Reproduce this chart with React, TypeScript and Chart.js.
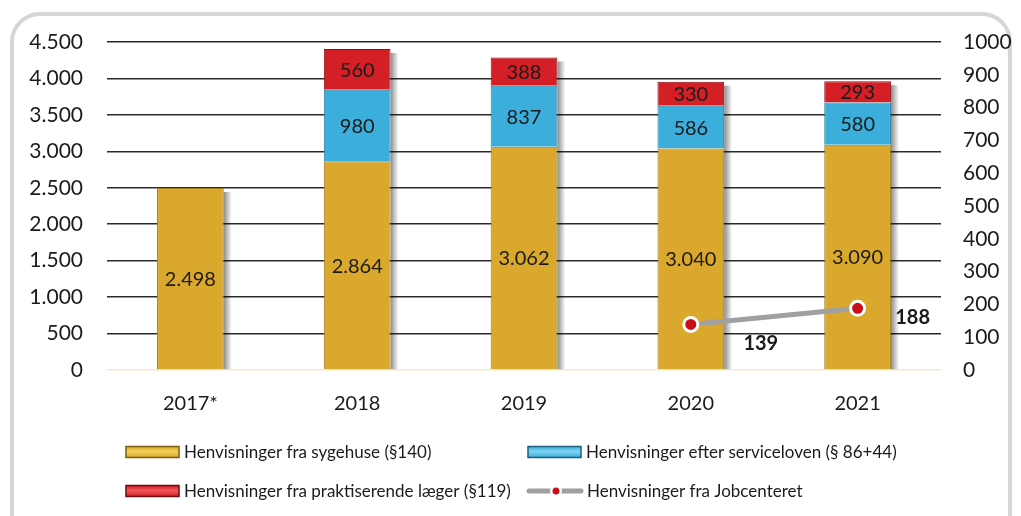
import React, { useEffect, useRef } from "react";
import { Chart, registerables } from "chart.js";
Chart.register(...registerables);

const categories = ["2017*", "2018", "2019", "2020", "2021"];
const sygehuse = [2498, 2864, 3062, 3040, 3090];
const serviceloven = [null, 980, 837, 586, 580];
const laeger = [null, 560, 388, 330, 293];
const jobcenter = [null, null, null, 139, 188];

const seriesNames = [
  "Henvisninger fra sygehuse (§140)",
  "Henvisninger efter serviceloven (§ 86+44)",
  "Henvisninger fra praktiserende læger (§119)",
  "Henvisninger fra Jobcenteret",
];

const FONT = "Lato";
const yellow = "#D9A82C";
const blue = "#3BAEDB";
const red = "#D41F26";

function fmt(v: number): string {
  const s = String(Math.round(v));
  return s.replace(/\B(?=(\d{3})+(?!\d))/g, ".");
}

const labelPlugin = {
  id: "labels",
  beforeDatasetsDraw(chart: any) {
    const ctx = chart.ctx;
    const metas = [0, 1, 2].map((d) => chart.getDatasetMeta(d));
    ctx.save();
    metas[0].data.forEach((el: any, i: number) => {
      let top = el.y;
      metas.forEach((m: any, d: number) => {
        if (chart.data.datasets[d].data[i] != null) top = Math.min(top, m.data[i].y);
      });
      const right = el.x + el.width / 2;
      const g = ctx.createLinearGradient(right, 0, right + 8, 0);
      g.addColorStop(0, "rgba(0,0,0,0.45)");
      g.addColorStop(1, "rgba(0,0,0,0)");
      ctx.fillStyle = g;
      ctx.fillRect(right, top + 4, 8, el.base - top - 4);
    });
    ctx.restore();
  },
  afterDatasetsDraw(chart: any) {
    const ctx = chart.ctx;
    ctx.save();
    ctx.textAlign = "center";
    ctx.textBaseline = "middle";
    ctx.fillStyle = "#1b1b1b";
    ctx.font = `20px ${FONT}`;
    for (let d = 0; d < 3; d++) {
      const meta = chart.getDatasetMeta(d);
      const data = chart.data.datasets[d].data;
      meta.data.forEach((el: any, i: number) => {
        const v = data[i];
        if (v == null) return;
        const y = (el.y + el.base) / 2;
        ctx.fillText(fmt(v), el.x, y + 1);
      });
    }
    const lm = chart.getDatasetMeta(3);
    const offs = [null, null, null, [70, 19], [55, 9]];
    ctx.font = `bold 20px ${FONT}`;
    lm.data.forEach((el: any, i: number) => {
      const v = jobcenter[i];
      const o = offs[i];
      if (v == null || !o) return;
      ctx.fillText(String(v), el.x + o[0], el.y + o[1]);
    });
    ctx.restore();
  },
  afterDraw(chart: any) {
    const ctx = chart.ctx;
    ctx.save();
    const items = [
      { x: 126, y: 452, kind: "box", fill: yellow, light: "#f3d25a", stroke: "#7a5c12" },
      { x: 528, y: 452, kind: "box", fill: blue, light: "#7fd3f2", stroke: "#1f5f7d" },
      { x: 126, y: 491, kind: "box", fill: red, light: "#f0585c", stroke: "#6d0c10" },
      { x: 527, y: 491, kind: "line" },
    ];
    ctx.font = `17px ${FONT}`;
    ctx.textBaseline = "middle";
    ctx.textAlign = "left";
    items.forEach((it: any, i) => {
      if (it.kind === "box") {
        const g = ctx.createLinearGradient(0, it.y - 5.5, 0, it.y + 5.5);
        g.addColorStop(0, it.fill);
        g.addColorStop(0.45, it.light);
        g.addColorStop(1, it.fill);
        ctx.fillStyle = g;
        ctx.strokeStyle = it.stroke;
        ctx.lineWidth = 1.5;
        ctx.fillRect(it.x, it.y - 5.5, 53, 11);
        ctx.strokeRect(it.x, it.y - 5.5, 53, 11);
      } else {
        ctx.strokeStyle = "#a0a0a0";
        ctx.lineWidth = 5;
        ctx.lineCap = "round";
        ctx.beginPath();
        ctx.moveTo(it.x + 2, it.y);
        ctx.lineTo(it.x + 54, it.y);
        ctx.stroke();
        ctx.fillStyle = "#ffffff";
        ctx.beginPath();
        ctx.arc(it.x + 29, it.y, 6, 0, Math.PI * 2);
        ctx.fill();
        ctx.fillStyle = "#c8101a";
        ctx.beginPath();
        ctx.arc(it.x + 29, it.y, 3.5, 0, Math.PI * 2);
        ctx.fill();
      }
      ctx.fillStyle = "#1b1b1b";
      const tx = it.kind === "box" ? it.x + 58 : it.x + 60;
      ctx.fillText(seriesNames[i], tx, it.y + 1);
    });
    ctx.restore();
  },
};

export default function App() {
  const ref = useRef<HTMLCanvasElement>(null);
  useEffect(() => {
    if (!ref.current) return;
    Chart.defaults.font.family = FONT;
    const chart = new Chart(ref.current, {
      type: "bar",
      data: {
        labels: categories,
        datasets: [
          {
            label: seriesNames[0],
            data: sygehuse,
            backgroundColor: yellow,
            borderColor: "#a27d1c",
            borderWidth: 1,
            yAxisID: "y",
            order: 1,
          },
          {
            label: seriesNames[1],
            data: serviceloven,
            backgroundColor: blue,
            borderColor: "#2a7fa3",
            borderWidth: 1,
            yAxisID: "y",
            order: 1,
          },
          {
            label: seriesNames[2],
            data: laeger,
            backgroundColor: red,
            borderColor: "#8e1015",
            borderWidth: 1,
            yAxisID: "y",
            order: 1,
          },
          {
            type: "line",
            label: seriesNames[3],
            data: jobcenter,
            borderColor: "#a0a0a0",
            borderWidth: 5,
            pointBackgroundColor: "#c8101a",
            pointBorderColor: "#ffffff",
            pointBorderWidth: 3,
            pointRadius: 7,
            yAxisID: "y2",
            order: 0,
          } as any,
        ],
      },
      options: {
        responsive: false,
        animation: false,
        layout: { padding: { top: 42, bottom: 100, left: 0, right: 0 } },
        datasets: { bar: { barPercentage: 0.4, categoryPercentage: 1 } },
        plugins: { legend: { display: false }, tooltip: { enabled: false } },
        scales: {
          x: {
            stacked: true,
            grid: { display: false },
            border: { display: false },
            ticks: { color: "#1b1b1b", font: { size: 20 }, padding: 14 },
            afterFit(s: any) {
              s.height = 46;
            },
          },
          y: {
            stacked: true,
            position: "left",
            min: 0,
            max: 4500,
            border: { display: false },
            grid: {
              drawTicks: false,
              color: (c: any) => (c.tick && c.tick.value === 0 ? "#fbe8c8" : "#2a2a2a"),
              lineWidth: 1.5,
            },
            ticks: {
              stepSize: 500,
              padding: 24,
              color: "#1b1b1b",
              font: { size: 21 },
              callback: (v: any) => fmt(Number(v)),
            },
            afterFit(s: any) {
              s.width = 107;
            },
          },
          y2: {
            position: "right",
            min: 0,
            max: 1000,
            stacked: false,
            border: { display: false },
            grid: { display: false, drawTicks: false },
            ticks: {
              stepSize: 100,
              padding: 22,
              color: "#1b1b1b",
              font: { size: 21 },
              callback: (v: any) => String(v),
            },
            afterFit(s: any) {
              s.width = 80;
            },
          },
        },
      },
      plugins: [labelPlugin],
    } as any);
    return () => chart.destroy();
  }, []);
  return (
    <div style={{ position: "fixed", left: 0, top: 0, width: 1021, height: 516, overflow: "hidden", background: "#fff" }}>
      <div
        style={{
          position: "absolute",
          left: 10,
          top: 12,
          width: 1002,
          height: 540,
          boxSizing: "border-box",
          border: "4px solid #d6d6d6",
          borderRadius: 30,
        }}
      />
      <canvas ref={ref} width={1021} height={516} style={{ position: "absolute", left: 0, top: 0 }} />
    </div>
  );
}
